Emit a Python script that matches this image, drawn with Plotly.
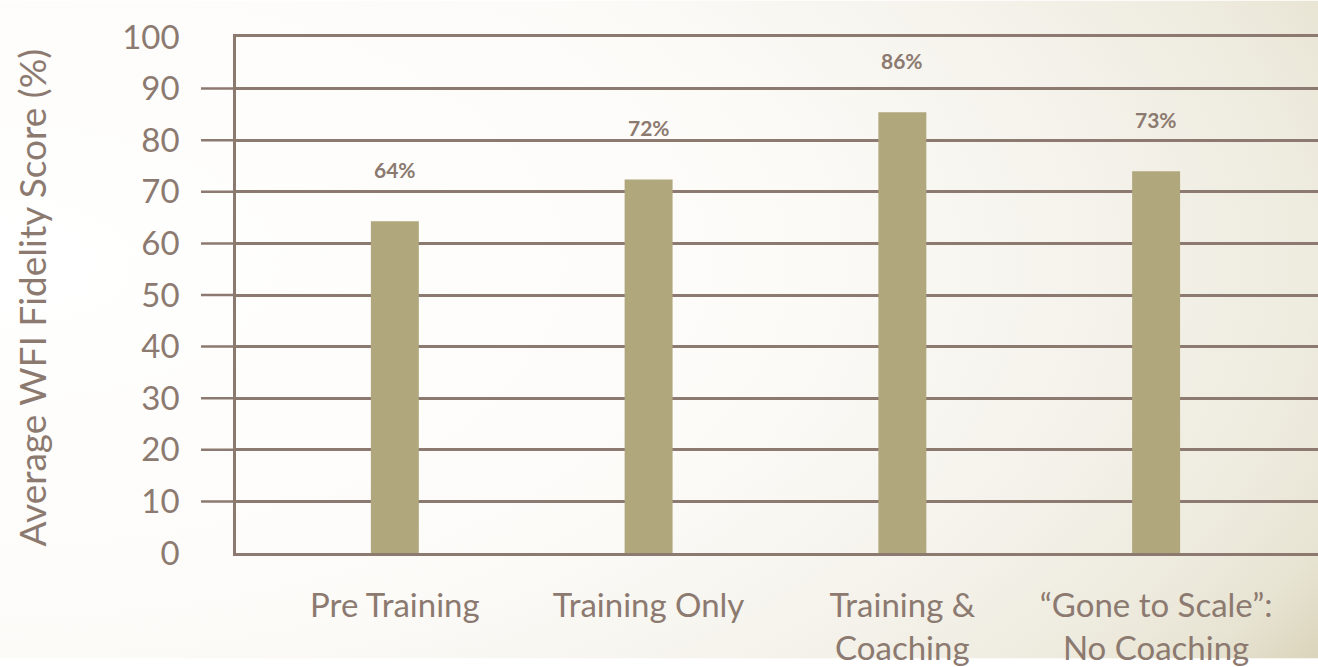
import base64
import plotly.graph_objects as go

categories = ["Pre Training", "Training Only", "Training &<br>Coaching", "“Gone to Scale”:<br>No Coaching"]
scores = [64.3, 72.4, 85.4, 74.0]
score_labels = ["64%", "72%", "86%", "73%"]
y_ticks = [0, 10, 20, 30, 40, 50, 60, 70, 80, 90, 100]
stub_ticks = [10, 20, 30, 40, 50, 60, 70, 80, 90]

TEXT = "#8c7a70"
LINE = "#8c7a70"
BAR = "#b0a77d"
FONT = "Lato"

W, H = 1318, 667
ML, MR, MT, MB = 236, 0, 37, 107
PW, PH = W - ML - MR, H - MT - MB

svg = (
    '<svg xmlns="http://www.w3.org/2000/svg" width="1318" height="667" preserveAspectRatio="none">'
    '<defs><radialGradient id="g" cx="0.0" cy="0.4" r="1.17" gradientUnits="objectBoundingBox">'
    '<stop offset="0" stop-color="#ffffff"/>'
    '<stop offset="0.5" stop-color="#fcfbf8"/>'
    '<stop offset="0.7" stop-color="#f5f3ec"/>'
    '<stop offset="0.85" stop-color="#eeebdf"/>'
    '<stop offset="0.93" stop-color="#e8e4d3"/>'
    '<stop offset="1" stop-color="#d9d3b9"/>'
    '</radialGradient></defs>'
    '<rect width="1318" height="667" fill="url(#g)"/></svg>'
)
bg_src = "data:image/svg+xml;base64," + base64.b64encode(svg.encode()).decode()

fig = go.Figure()
fig.add_trace(go.Bar(
    x=categories, y=scores, width=0.189,
    marker=dict(color=BAR, line=dict(width=0)),
    hoverinfo="skip",
))

for c, v, t in zip(categories, scores, score_labels):
    fig.add_annotation(x=c, y=v, text=f"<b>{t}</b>", showarrow=False,
                       yshift=52, font=dict(family=FONT, size=21, color=TEXT))

for t in stub_ticks:
    fig.add_shape(type="line", xref="paper", yref="y", x0=-35 / PW, x1=0, y0=t, y1=t,
                  line=dict(color=LINE, width=2.5), layer="below")

fig.add_annotation(
    xref="paper", yref="paper", x=(31 - ML) / PW, y=(555 - 296) / PH,
    text="Average WFI Fidelity Score (%)", textangle=-90, showarrow=False,
    xanchor="center", yanchor="middle",
    font=dict(family=FONT, size=37, color=TEXT),
)

fig.add_layout_image(dict(
    source=bg_src, xref="paper", yref="paper",
    x=-ML / PW, y=1 + MT / PH, sizex=W / PW, sizey=H / PH,
    sizing="stretch", layer="below", xanchor="left", yanchor="top",
))

fig.update_layout(
    width=W, height=H,
    margin=dict(l=ML, r=MR, t=MT, b=MB),
    paper_bgcolor="#ffffff", plot_bgcolor="rgba(0,0,0,0)",
    showlegend=False,
    font=dict(family=FONT, color=TEXT),
    xaxis=dict(
        range=[-0.626, 3.638], showgrid=False, zeroline=False,
        showline=True, mirror=True, linecolor=LINE, linewidth=2.5,
        ticks="", ticklabelstandoff=22,
        tickfont=dict(family=FONT, size=33, color=TEXT),
        fixedrange=True,
    ),
    yaxis=dict(
        range=[0, 100], tickvals=y_ticks, ticktext=[str(v) for v in y_ticks],
        showgrid=True, gridcolor=LINE, gridwidth=2.5, zeroline=False,
        showline=True, linecolor=LINE, linewidth=2.5,
        ticks="", ticklabelstandoff=47,
        tickfont=dict(family=FONT, size=33, color=TEXT),
        fixedrange=True,
    ),
)

fig.write_html(
    "out.html",
    config={"displayModeBar": False},
    post_script="document.body.style.margin='0';document.body.style.overflow='hidden';",
)
